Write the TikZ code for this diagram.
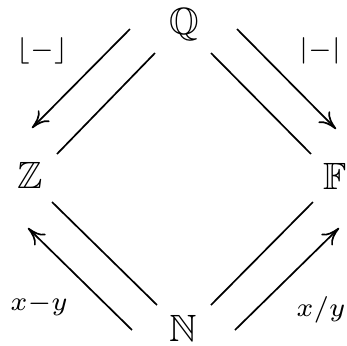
\documentclass[tikz,border=0pt]{standalone}
\usepackage{amssymb}
\usetikzlibrary{arrows.meta}
\begin{document}
\begin{tikzpicture}[x=0.2632pt,y=-0.2632pt,
  obj/.style={inner sep=0pt,font=\normalsize},
  lbl/.style={inner sep=0pt},
  conn/.style={line width=0.45pt},
  arr/.style={conn,-{To[length=4.6pt,width=4.2pt]}}]
\useasboundingbox (0,0) rectangle (346,346);
\node[obj] (Q) at (184,25) {$\mathbb{Q}$};
\node[obj] (Z) at (30,175) {$\mathbb{Z}$};
\node[obj] (F) at (335,176) {$\mathbb{F}$};
\node[obj] (N) at (183,328) {$\mathbb{N}$};
% Q - Z
\draw[arr] ([shift={(-54,4)}]Q.center) -- ([shift={(2,-47)}]Z.center);
\draw[conn] ([shift={(-29,28)}]Q.center) -- ([shift={(27,-21)}]Z.center);
% Q - F
\draw[arr] ([shift={(53,4)}]Q.center) -- ([shift={(1,-47)}]F.center);
\draw[conn] ([shift={(27,28)}]Q.center) -- ([shift={(-24,-22)}]F.center);
% N - Z
\draw[arr] ([shift={(-51,2)}]N.center) -- ([shift={(-2,53)}]Z.center);
\draw[conn] ([shift={(-26,-23)}]N.center) -- ([shift={(22,27)}]Z.center);
% N - F
\draw[arr] ([shift={(52,2)}]N.center) -- ([shift={(4,52)}]F.center);
\draw[conn] ([shift={(28,-23)}]N.center) -- ([shift={(-22,26)}]F.center);
% labels
\node[lbl] (l1) at (42,51) {$\scriptstyle\lfloor-\rfloor$};
\node[lbl] (l2) at (320,51) {$\scriptstyle|-|$};
\node[lbl] (l3) at (39,305) {$\scriptstyle x-y$};
\node[lbl] (l4) at (321,310) {$\scriptstyle x/y$};
\end{tikzpicture}
\end{document}
